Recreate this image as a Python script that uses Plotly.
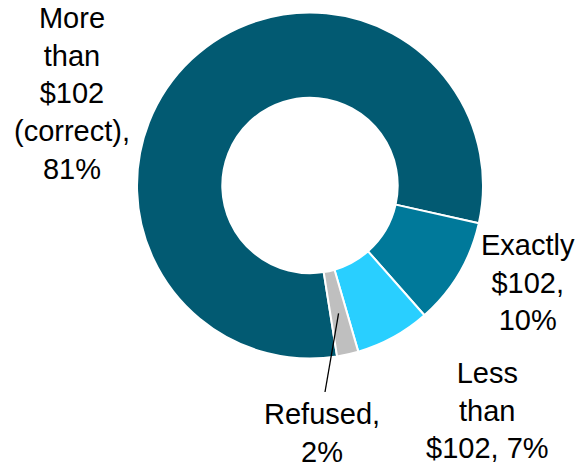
import math
import plotly.graph_objects as go

# Data
categories = ["More than $102 (correct)", "Exactly $102", "Less than $102", "Refused"]
values = [81, 10, 7, 2]
label_texts = [
    "More<br>than<br>$102<br>(correct),<br>81%",
    "Exactly<br>$102,<br>10%",
    "Less<br>than<br>$102, 7%",
    "Refused,<br>2%",
]
colors = ["#025A72", "#00799A", "#29CFFF", "#BFBFBF"]

W, H = 585, 464
cx, cy, R = 310.0, 185.5, 173.0
rotation = 171.0

def px_to_paper(x, y):
    return x / W, 1 - y / H

dom_x = [(cx - R) / W, (cx + R) / W]
dom_y = [1 - (cy + R) / H, 1 - (cy - R) / H]

fig = go.Figure(go.Pie(
    labels=categories,
    values=values,
    hole=0.507,
    sort=False,
    direction="clockwise",
    rotation=rotation,
    marker=dict(colors=colors, line=dict(color="white", width=2)),
    textinfo="none",
    hoverinfo="label+percent",
    domain=dict(x=dom_x, y=dom_y),
    showlegend=False,
))

# label positions (pixel centers)
label_pos = [(72, 93), (528, 282.5), (487, 410), (322, 433)]
font = dict(family="Liberation Sans, Arial, sans-serif", size=29, color="black")
annotations = []
for txt, (lx, ly) in zip(label_texts, label_pos):
    px, py = px_to_paper(lx, ly)
    annotations.append(dict(
        x=px, y=py, xref="paper", yref="paper", text=txt, showarrow=False,
        xanchor="center", yanchor="middle", align="center", font=font,
    ))

# leader line for the Refused slice, from its mid-angle
total = sum(values)
start = rotation + 360 * sum(values[:3]) / total
mid = math.radians(start + 360 * values[3] / total / 2)
r0 = 0.757 * R
sx, sy = cx + r0 * math.sin(mid), cy - r0 * math.cos(mid)
ex, ey = 325.0, 392.0
p0 = px_to_paper(sx, sy)
p1 = px_to_paper(ex, ey)
shapes = [dict(type="line", xref="paper", yref="paper", x0=p0[0], y0=p0[1],
               x1=p1[0], y1=p1[1], line=dict(color="black", width=1.3))]

fig.update_layout(
    width=W, height=H,
    margin=dict(l=0, r=0, t=0, b=0),
    paper_bgcolor="white", plot_bgcolor="white",
    annotations=annotations, shapes=shapes,
)

fig.write_html(
    "out.html",
    config={"displayModeBar": False},
    post_script="document.body.style.margin='0';document.body.style.padding='0';"
                "document.body.style.overflow='hidden';",
)
